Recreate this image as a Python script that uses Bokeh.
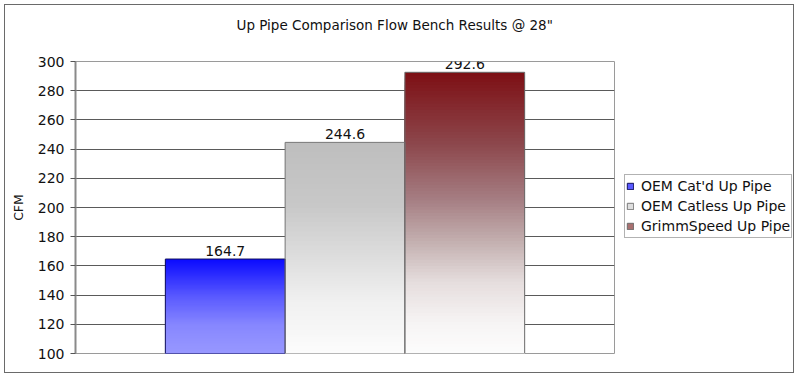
from bokeh.plotting import figure
from bokeh.layouts import row, column
from bokeh.models import (ColumnDataSource, FactorRange, Range1d, Legend, LegendItem,
                          FixedTicker)
from bokeh.embed import file_html
from bokeh.resources import INLINE
from bokeh.core.properties import value

# ---- data ----
categories = ["OEM Cat'd Up Pipe", "OEM Catless Up Pipe", "GrimmSpeed Up Pipe"]
values = [164.7, 244.6, 292.6]
y_ticks = [100, 120, 140, 160, 180, 200, 220, 240, 260, 280, 300]
title_text = 'Up Pipe Comparison Flow Bench Results @ 28"'
y_label = "CFM"

# ---- styles (gradient stops: fraction from top of bar -> rgb) ----
gradients = [
    [(0.0, (10, 10, 255)), (0.4, (90, 90, 255)), (0.7, (135, 135, 255)), (1.0, (152, 152, 255))],
    [(0.0, (190, 190, 190)), (0.3, (200, 200, 200)), (0.5, (218, 218, 218)), (0.75, (240, 240, 240)), (1.0, (252, 252, 252))],
    [(0.0, (125, 15, 20)), (0.25, (140, 70, 75)), (0.45, (165, 125, 130)), (0.6, (195, 175, 175)),
     (0.75, (230, 222, 222)), (0.9, (247, 245, 245)), (1.0, (252, 252, 252))],
]
swatch_colors = ["#5a5aff", "#dedede", "#a87070"]
outline_colors = ["#10105a", "#777777", "#6a6a6a"]
FONT = "DejaVu Sans"
BASE = y_ticks[0]
TITLE_H = 40


def grad_color(stops, f):
    for (f0, c0), (f1, c1) in zip(stops[:-1], stops[1:]):
        if f0 <= f <= f1:
            t = 0 if f1 == f0 else (f - f0) / (f1 - f0)
            c = [round(a + (b - a) * t) for a, b in zip(c0, c1)]
            return "#%02x%02x%02x" % tuple(c)
    return "#%02x%02x%02x" % stops[-1][1]


# ---- title strip ----
tf = figure(width=788, height=TITLE_H, output_backend="svg", toolbar_location=None,
            x_range=Range1d(0, 788), y_range=Range1d(TITLE_H, 0),
            min_border=0, x_axis_location=None, y_axis_location=None)
tf.grid.visible = False
tf.outline_line_color = None
tf.border_fill_color = "white"
tf.text(x=[231], y=[19], text=[title_text], text_align="left", text_baseline="middle",
        text_font=value(FONT), text_font_size="13.5px", text_color="#111111")

# ---- main chart ----
p = figure(width=615, height=367 - TITLE_H, output_backend="svg", toolbar_location=None,
           x_range=FactorRange(factors=categories, range_padding=0.75,
                               range_padding_units="absolute"),
           y_range=Range1d(y_ticks[0], y_ticks[-1]),
           min_border_left=70, min_border_right=6, min_border_top=56 - TITLE_H,
           min_border_bottom=19)

base_src = ColumnDataSource(dict(x=categories, top=values,
                                 fill=swatch_colors, line=outline_colors))

# gradient slices
N = 90
xs, tops, cols = [], [], []
for cat, v, stops in zip(categories, values, gradients):
    for i in range(N):
        f = i / N
        xs.append(cat)
        tops.append(BASE + (v - BASE) * (1 - f))
        cols.append(grad_color(stops, (i + 0.5) / N))
p.vbar(x=xs, top=tops, bottom=BASE, width=1.0, fill_color=cols, line_color=None)

# bar outlines
p.vbar(x="x", top="top", bottom=BASE, width=1.0, source=base_src,
       fill_color=None, line_color="line", line_width=1)

# value labels
p.text(x=categories, y=values, text=[f"{v:.1f}" for v in values],
       text_align="center", text_baseline="bottom", y_offset=-3,
       text_font=value(FONT), text_font_size="14px", text_color="#111111")

# axes
p.xaxis.visible = False
p.yaxis.ticker = FixedTicker(ticks=y_ticks)
p.yaxis.axis_label = y_label
p.yaxis.axis_label_text_font = FONT
p.yaxis.axis_label_text_font_size = "12.5px"
p.yaxis.axis_label_text_font_style = "normal"
p.yaxis.axis_label_text_color = "#111111"
p.yaxis.axis_label_standoff = 9
p.yaxis.major_label_text_font = FONT
p.yaxis.major_label_text_font_size = "14px"
p.yaxis.major_label_text_color = "#111111"
p.yaxis.major_label_standoff = 6
p.yaxis.major_tick_out = 5
p.yaxis.major_tick_in = 0
p.yaxis.major_tick_line_color = "#555555"
p.yaxis.minor_tick_line_color = None
p.yaxis.axis_line_color = "#8a8a8a"
p.yaxis.axis_line_width = 2

p.xgrid.visible = False
p.ygrid.ticker = FixedTicker(ticks=y_ticks[1:-1])
p.ygrid.grid_line_color = "#5a5a5a"
p.ygrid.grid_line_width = 1

p.outline_line_color = "#9a9a9a"
p.outline_line_width = 1
p.background_fill_color = "white"
p.border_fill_color = "white"

# ---- legend figure: its bars use factors that are not in its x range, so only the legend shows ----
lf = figure(width=173, height=367 - TITLE_H, output_backend="svg", toolbar_location=None,
            x_range=FactorRange(factors=["legend"]), y_range=Range1d(400, 500),
            min_border=0, x_axis_location=None, y_axis_location=None)
lf.grid.visible = False
lf.outline_line_color = None
lf.background_fill_color = "white"
lf.border_fill_color = "white"
swatches = lf.vbar(x="x", top="top", bottom=BASE, width=0.0, source=base_src,
                   fill_color="fill", line_color="line")

legend = Legend(items=[LegendItem(label=c, renderers=[swatches], index=i)
                       for i, c in enumerate(categories)],
                location=(4, 115))
legend.label_text_font = FONT
legend.label_text_font_size = "14px"
legend.label_text_color = "#111111"
legend.glyph_width = 8
legend.glyph_height = 8
legend.label_height = 20
legend.label_standoff = 7
legend.spacing = 0
legend.padding = 1
legend.margin = 0
legend.border_line_color = "#666666"
legend.border_line_width = 1
legend.background_fill_alpha = 1.0
lf.add_layout(legend, "center")

layout = column(tf, row(p, lf, spacing=0), spacing=0)
layout.styles = {"border": "1px solid #6a6a6a", "margin": "4px"}

open("out.html", "w").write(file_html(layout, INLINE))
